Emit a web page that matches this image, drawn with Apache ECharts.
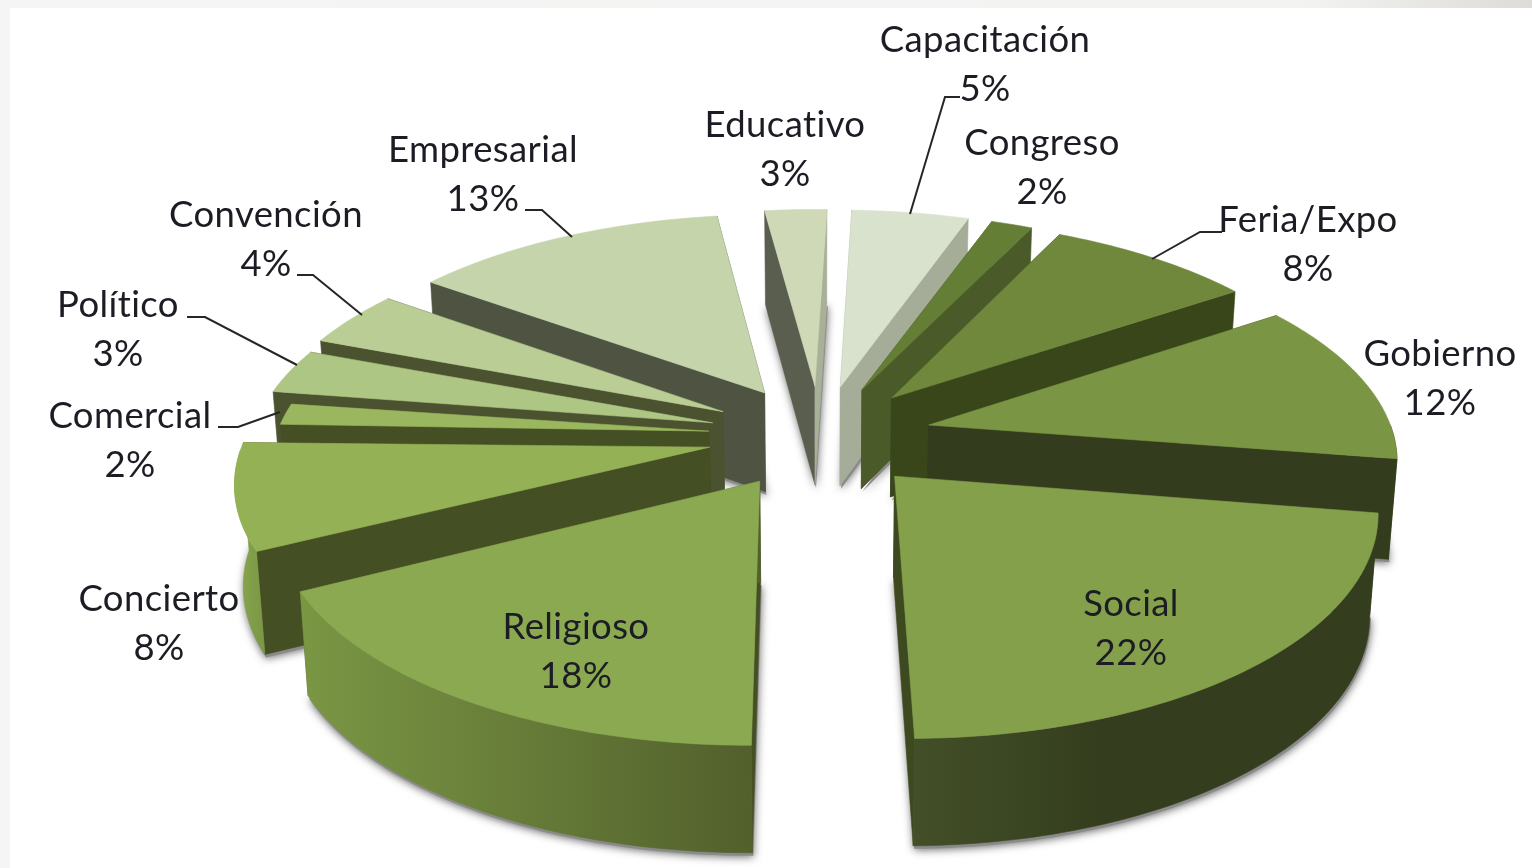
<!DOCTYPE html>
<html>
<head>
<meta charset="utf-8">
<style>
html,body{margin:0;padding:0;background:#fff;overflow:hidden}
#chart{width:1532px;height:868px;filter:blur(0.5px)}
</style>
<script src="https://cdn.jsdelivr.net/npm/echarts@6/dist/echarts.min.js"></script>
</head>
<body>
<div id="chart"></div>
<script>
// Real text without the "ti" ligature of the font: letter spacing switches ligatures off.
const nativeGetContext = HTMLCanvasElement.prototype.getContext;
HTMLCanvasElement.prototype.getContext = function(){
  const ctx = nativeGetContext.apply(this, arguments);
  if (ctx && 'letterSpacing' in ctx && ctx.letterSpacing === '0px') ctx.letterSpacing = '0.4px';
  return ctx;
};

// ---- data (shares; the labels show them rounded) ----
const categories = ['Capacitación','Congreso','Feria/Expo','Gobierno','Social','Religioso','Concierto','Comercial','Político','Convención','Empresarial','Educativo'];
const values = [4.9,1.7,8.4,12,22.4,17.6,8,1.9,3.4,4.2,12.9,2.6];

// ---- colours ----
const topColors   = ['#d9e2cc','#657e36','#6f883c','#7a9543','#84a04b','#8ba951','#94b255','#9ab65f','#aec683','#b9cd95','#c5d4aa','#cfd9b8'];
const startFaces  = ['#a5ac98','#4a5a28','#394619','#333c1d','#343e1e','#454f24','#454f24','#454f24','#4a5230','#4a5230','#4f5442','#5a5e4e'];
const endFaces    = ['#a5ac98','#4a5a28','#394619','#333c1d','#3d4a20','#52602c','#454f24','#454f24','#4a5230','#4a5230','#4f5442','#a8b098'];
const wallLeft    = ['#b5bca8','#55672e','#465524','#333c1d','#434f28','#7a9744','#8aa650','#8aa650','#8ea668','#8ea668','#5c6150','#a8b098'];
const wallRight   = ['#a5ac98','#4a5a28','#394619','#333c1d','#343e1e','#52602c','#7a9744','#7a9744','#8ea668','#8ea668','#4f5442','#a8b098'];
const wallStops   = [1,1,1,1,0.4,1,1,1,1,1,1,1];

// ---- annotation layout ----
const labelCenters = [[985,64.5],[1042,168],[1308,245],[1440,379],[1131,629],[576,652],[159,624],[130,441],[118,330],[266,240],[483,175],[785,150]];
const leaderPaths = [
  [[910,214],[945,97],[960,97]], null,
  [[1152,259],[1200,232],[1222,232]], null, null, null, null,
  [[280,412],[238,427],[218,427]],
  [[297,365],[205,317],[187,317]],
  [[362,315],[313,275],[297,275]],
  [[572,237],[542,210],[525,210]], null
];

// ---- projection of the exploded disc ----
const view = {cx:820, cy:436, R:465, explode:112, tilt:0.46, persp:0.138, depth:100, startDeg:2, shrink:0.985};
const radiusTrim = [1,1,1,1,1,1,1,0.93,0.99,1,1,1];
const total = values.reduce((a,b)=>a+b,0);
const rad = d => d*Math.PI/180;
function project(wx, wy, low){
  const p = 1/(1 - view.persp*wy/view.R);
  const h = low ? view.depth*Math.pow(p,0.4) : 0;
  return [view.cx + wx*p*(low?view.shrink:1), view.cy + wy*view.tilt*p + h];
}
function sliceGeom(i){
  let acc = 0; for(let k=0;k<i;k++) acc += values[k];
  const a0 = view.startDeg + acc/total*360, a1 = a0 + values[i]/total*360, mid=(a0+a1)/2;
  const R = view.R*radiusTrim[i];
  const ax = view.explode*Math.sin(rad(mid)), ay = -view.explode*Math.cos(rad(mid));
  const arc = (low, from, to) => { const pts=[]; const st=Math.max(0.01,Math.min(1,(to-from)/4)); for(let a=from;a<to+1e-6;a+=st){ pts.push(project(ax+R*Math.sin(rad(a)), ay-R*Math.cos(rad(a)), low)); } return pts; };
  const wFrom=Math.max(a0,90), wTo=Math.min(a1,270);
  return {mid, apexT:project(ax,ay,false), apexB:project(ax,ay,true), arcT:arc(false,a0,a1), arcB:arc(true,a0,a1),
    wall: wTo>wFrom ? arc(false,wFrom,wTo).concat(arc(true,wFrom,wTo).reverse()) : null};
}
// painter's order: far slices first
const rankOf = values.map((_,i)=>i).sort((a,b)=>Math.cos(rad(sliceGeom(b).mid))-Math.cos(rad(sliceGeom(a).mid)));
const poly = (points, fill, z2) => ({type:'polygon', z2, shape:{points}, style:{fill, stroke:fill, lineWidth:0.6}});

function renderShadow(params){
  const g = sliceGeom(params.dataIndex);
  return {type:'polygon', shape:{points:[g.apexB].concat(g.arcB)}, x:1, y:3,
    style:{fill:'#8a8a8a', shadowBlur:9, shadowColor:'rgba(0,0,0,0.6)', shadowOffsetX:0, shadowOffsetY:1}};
}
function renderSlice(params){
  const i = params.dataIndex, g = sliceGeom(i), z = rankOf.indexOf(i)*10;
  const n = g.arcT.length-1;
  const startQuad=[g.apexT,g.arcT[0],g.arcB[0],g.apexB], endQuad=[g.apexT,g.arcT[n],g.arcB[n],g.apexB];
  const grad={type:'linear',x:0,y:0,x2:1,y2:0,colorStops:[{offset:0,color:wallLeft[i]},{offset:wallStops[i],color:wallRight[i]},{offset:1,color:wallRight[i]}]};
  const children=[poly(startQuad,startFaces[i],z), poly(endQuad,endFaces[i],z+1)];
  if(g.wall) children.push(poly(g.wall,grad,z+2));
  children.push(poly([g.apexT].concat(g.arcT),topColors[i],z+3));
  return {type:'group', children};
}
function renderLabel(params){
  const i = params.dataIndex, c = labelCenters[i], children=[];
  if(leaderPaths[i]) children.push({type:'polyline', shape:{points:leaderPaths[i]}, style:{stroke:'#262626',lineWidth:2,fill:null}});
  children.push({type:'text', x:c[0], y:c[1], style:{text:categories[i]+'\n'+Math.round(values[i])+'%', x:0, y:0, align:'center', verticalAlign:'middle', font:'36.5px Lato', lineHeight:49, fill:'#1c1c24'}});
  return {type:'group', children};
}

const chart = echarts.init(document.getElementById('chart'));
chart.setOption({
  backgroundColor:'#ffffff',
  animation:false,
  graphic:[
    {type:'rect', shape:{x:0,y:0,width:1532,height:8}, style:{fill:{type:'linear',x:0,y:0,x2:1,y2:0,colorStops:[{offset:0,color:'#f5f5f5'},{offset:0.85,color:'#f3f3f2'},{offset:1,color:'#dedcd8'}]}}},
    {type:'rect', shape:{x:0,y:0,width:10,height:868}, style:{fill:'#f5f5f5'}}
  ],
  series:[
    {type:'custom', coordinateSystem:'none', silent:true, z:2, data:values, renderItem:renderShadow},
    {type:'custom', coordinateSystem:'none', silent:true, z:3, data:values, renderItem:renderSlice},
    {type:'custom', coordinateSystem:'none', silent:true, z:4, data:values, renderItem:renderLabel}
  ]
});
</script>
</body>
</html>
